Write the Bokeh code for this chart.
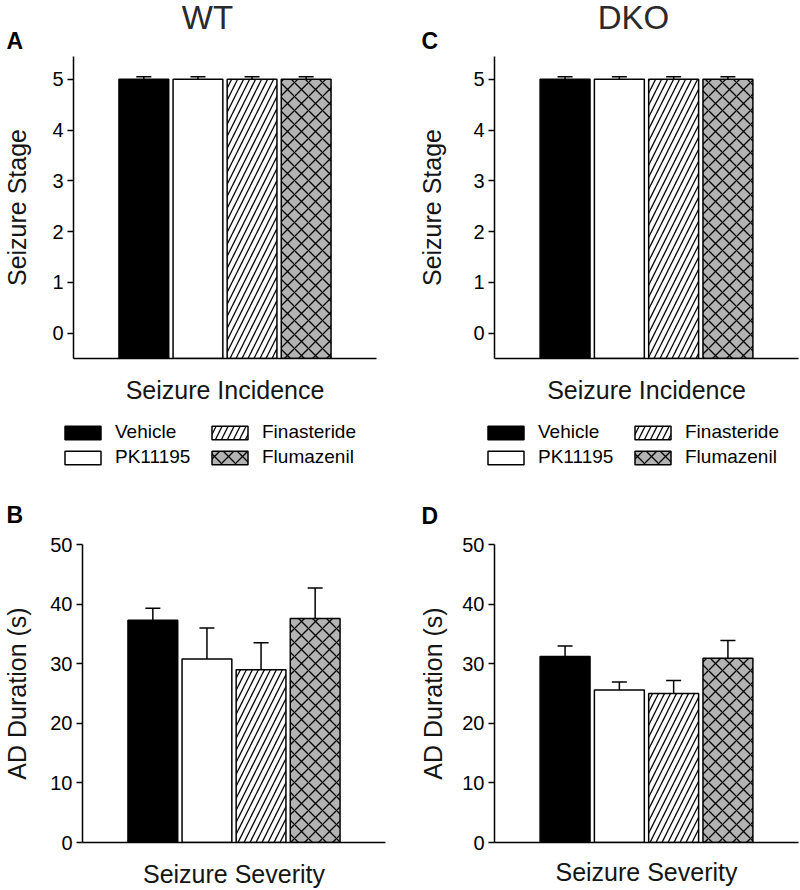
from bokeh.plotting import figure
from bokeh.models import (ColumnDataSource, Whisker, TeeHead, FixedTicker, Range1d,
                          Legend, LegendItem, Label)
from bokeh.layouts import row, column
from bokeh.embed import file_html
from bokeh.resources import INLINE

# ---------------- data ----------------
categories = ["Vehicle", "PK11195", "Finasteride", "Flumazenil"]
wt_stage = [5.0, 5.0, 5.0, 5.0]
wt_stage_err = [0.05, 0.05, 0.05, 0.05]
dko_stage = [5.0, 5.0, 5.0, 5.0]
dko_stage_err = [0.05, 0.05, 0.05, 0.05]
wt_ad = [37.3, 30.8, 29.0, 37.6]
wt_ad_err = [2.0, 5.2, 4.5, 5.1]
dko_ad = [31.2, 25.6, 25.0, 30.9]
dko_ad_err = [1.75, 1.35, 2.2, 3.0]
stage_ticks = [0, 1, 2, 3, 4, 5]
ad_ticks = [0, 10, 20, 30, 40, 50]

# ---------------- styles ----------------
FONT = "Liberation Sans"
FILLS = ["black", "white", "white", "#b3b3b3"]
HATCHES = [None, None, "/", "x"]
HATCH_SCALES = [10, 10, 12, 14]
BAR_W = 0.92
NAN = float("nan")


def bar_style(i):
    return dict(fill_color=FILLS[i], line_color="black", line_width=1.5,
                hatch_pattern=HATCHES[i], hatch_color="black",
                hatch_scale=HATCH_SCALES[i], hatch_weight=1.3)


def blank_fig(W, H):
    f = figure(width=W, height=H, x_range=Range1d(0, W), y_range=Range1d(H, 0),
               output_backend="svg", toolbar_location=None, title_location=None,
               x_axis_type=None, y_axis_type=None, min_border=0)
    f.outline_line_color = None
    f.grid.visible = False
    f.background_fill_color = "white"
    f.border_fill_color = "white"
    return f


def header(W, H, texts):
    f = blank_fig(W, H)
    for (txt, x, y, size, bold, align, color) in texts:
        f.add_layout(Label(x=x, y=y, text=txt, text_font=FONT, text_font_size=size,
                           text_font_style="bold" if bold else "normal",
                           text_color=color, text_align=align,
                           text_baseline="middle"))
    return f


def legend_fig(W, H, loc):
    f = blank_fig(W, H)
    items = []
    for i, cat in enumerate(categories):
        # legend-only renderer: its single point is NaN, so nothing is drawn
        r = f.vbar(x=[NAN], top=[NAN], width=BAR_W, **bar_style(i))
        items.append(LegendItem(label=cat, renderers=[r]))
    lg = Legend(items=items, location=loc, orientation="vertical", nrows=2,
                glyph_width=45, glyph_height=17, label_standoff=10, label_width=89,
                spacing=3, padding=0, margin=0, border_line_color=None,
                background_fill_alpha=0, label_text_font=FONT,
                label_text_font_size="19px", label_text_color="black")
    f.add_layout(lg)
    return f


def panel(vals, errs, ticks, yr, ylabel, xlabel, W, H, fl, ft, fw, fh,
          ylab_so, xlab_so):
    p = figure(width=W, height=H, x_range=Range1d(-0.3, 5.3), y_range=Range1d(*yr),
               output_backend="svg", toolbar_location=None, title_location=None,
               min_border_left=fl, min_border_top=ft,
               min_border_right=W - fl - fw, min_border_bottom=H - ft - fh)
    p.outline_line_color = None
    p.grid.visible = False
    p.background_fill_color = "white"
    p.border_fill_color = "white"

    xs = [i + 1 for i in range(len(categories))]
    for i, cat in enumerate(categories):
        p.vbar(x=[xs[i]], top=[vals[i]], bottom=yr[0], width=BAR_W, **bar_style(i))

    src = ColumnDataSource(dict(base=xs, lower=vals,
                                upper=[v + e for v, e in zip(vals, errs)]))
    wh = Whisker(source=src, base="base", lower="lower", upper="upper",
                 dimension="height", lower_head=None,
                 upper_head=TeeHead(size=15, line_width=1.5, line_color="black"),
                 line_width=1.5, line_color="black", level="overlay")
    p.add_layout(wh)

    ya = p.yaxis[0]
    ya.ticker = FixedTicker(ticks=ticks)
    ya.axis_label = ylabel
    ya.axis_label_text_font = FONT
    ya.axis_label_text_font_size = "25px"
    ya.axis_label_text_font_style = "normal"
    ya.axis_label_text_color = "#151515"
    ya.axis_label_standoff = ylab_so
    ya.major_label_text_font = FONT
    ya.major_label_text_font_size = "20px"
    ya.major_label_text_color = "black"
    ya.major_label_standoff = 4
    ya.major_tick_out = 6
    ya.major_tick_in = 0
    ya.minor_tick_out = 0
    ya.minor_tick_in = 0
    ya.axis_line_width = 1.5
    ya.major_tick_line_width = 1.5
    ya.axis_line_color = "black"
    ya.major_tick_line_color = "black"

    xa = p.xaxis[0]
    xa.ticker = FixedTicker(ticks=[])
    xa.axis_label = xlabel
    xa.axis_label_text_font = FONT
    xa.axis_label_text_font_size = "25px"
    xa.axis_label_text_font_style = "normal"
    xa.axis_label_text_color = "#151515"
    xa.axis_label_standoff = xlab_so
    xa.major_label_standoff = 0
    xa.major_tick_out = 0
    xa.major_tick_in = 0
    xa.minor_tick_out = 0
    xa.minor_tick_in = 0
    xa.axis_line_width = 1.5
    xa.axis_line_color = "black"
    return p


TITLE_C = "#2a2a2a"
hA = header(400, 54, [("WT", 207, 16.5, "33px", False, "center", TITLE_C),
                      ("A", 6, 40, "23px", True, "left", "black")])
hC = header(400, 54, [("DKO", 233, 16.5, "33px", False, "center", TITLE_C),
                      ("C", 21, 40, "23px", True, "left", "black")])
pA = panel(wt_stage, wt_stage_err, stage_ticks, (-0.5, 5.45), "Seizure Stage",
           "Seizure Incidence", W=400, H=356, fl=72, ft=2, fw=304, fh=302,
           ylab_so=18, xlab_so=17)
pC = panel(dko_stage, dko_stage_err, stage_ticks, (-0.5, 5.45), "Seizure Stage",
           "Seizure Incidence", W=400, H=356, fl=94, ft=2, fw=304, fh=302,
           ylab_so=24, xlab_so=17)
lA = legend_fig(400, 70, (60, 12))
lC = legend_fig(400, 70, (83, 12))
hB = header(400, 50, [("B", 6, 34, "23px", True, "left", "black")])
hD = header(400, 50, [("D", 21, 35, "23px", True, "left", "black")])
pB = panel(wt_ad, wt_ad_err, ad_ticks, (0, 50), "AD Duration (s)",
           "Seizure Severity", W=400, H=360, fl=80, ft=10, fw=305, fh=303,
           ylab_so=16, xlab_so=17)
pD = panel(dko_ad, dko_ad_err, ad_ticks, (0, 50), "AD Duration (s)",
           "Seizure Severity", W=400, H=360, fl=94, ft=14, fw=304, fh=303,
           ylab_so=12, xlab_so=15)

layout = column(row(hA, hC), row(pA, pC), row(lA, lC), row(hB, hD), row(pB, pD))

open("out.html", "w").write(file_html(layout, INLINE))
